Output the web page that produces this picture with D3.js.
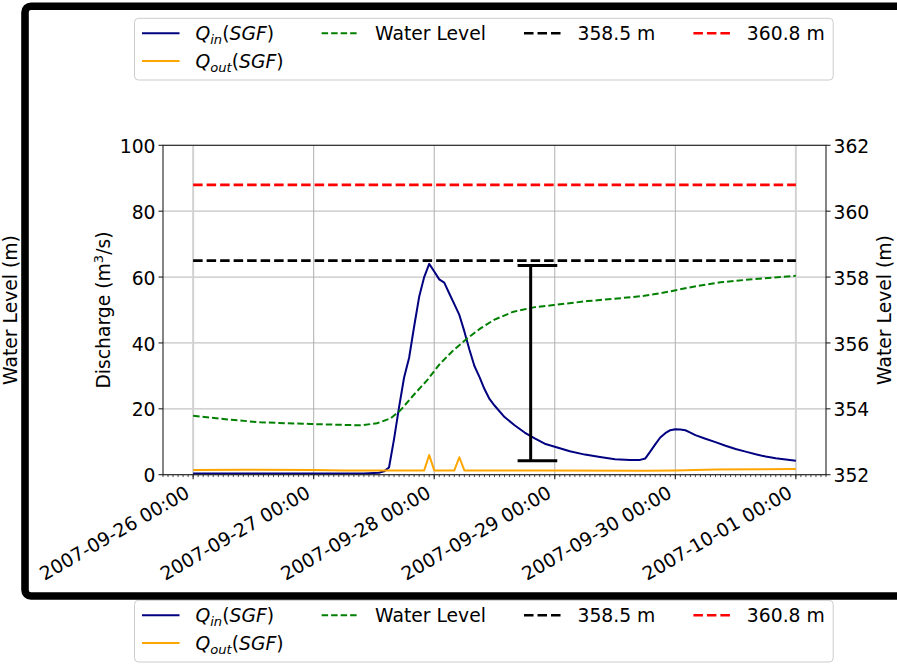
<!DOCTYPE html>
<html>
<head>
<meta charset="utf-8">
<script src="https://cdn.jsdelivr.net/npm/d3@7"></script>
<style>
  body { margin: 0; background: #ffffff; }
  svg { display: block; }
  text { font-family: "DejaVu Sans", sans-serif; fill: #000; }
</style>
</head>
<body>
<svg id="chart" width="897" height="664"></svg>
<script>
// ---------------- data ----------------
const startTime = "2007-09-26T00:00";
const xDomain = ["2007-09-25T18:00", "2007-10-01T06:00"];
const xTickDates = ["2007-09-26T00:00", "2007-09-27T00:00", "2007-09-28T00:00",
                    "2007-09-29T00:00", "2007-09-30T00:00", "2007-10-01T00:00"];

// inflow Q_in (hours after start, m3/s)
const qinHours  = [0, 12, 24, 34, 37, 38, 39, 40, 41, 42, 43, 44, 45, 46, 47, 48, 49, 50, 51, 52,
                   53, 54, 55, 56, 57, 58, 59, 60, 62, 64, 66, 68, 70, 72, 75, 78, 81, 84, 87, 89,
                   90, 91, 92, 93, 94, 95, 96, 97, 98, 99, 100, 102, 104, 106, 108, 110, 112, 114,
                   116, 118, 120];
const qinValues = [0.4, 0.4, 0.4, 0.4, 0.6, 1.0, 2.2, 10.8, 20.5, 29.5, 35.5, 45, 54, 60, 64, 61.7,
                   59.3, 58.3, 55, 51.8, 48.5, 43.5, 38, 33, 29.7, 26, 23, 21, 17.5, 15, 12.8, 11,
                   9.4, 8.5, 7.1, 6.1, 5.4, 4.7, 4.5, 4.5, 4.9, 7, 9.2, 11.3, 12.6, 13.5, 13.8,
                   13.7, 13.5, 12.8, 12.0, 10.9, 9.9, 8.8, 7.8, 7.0, 6.2, 5.5, 5.0, 4.6, 4.25];

// outflow Q_out (hours after start, m3/s)
const qoutHours  = [0, 10, 24, 30, 46, 47, 48, 52, 53, 54, 70, 90, 96, 104, 120];
const qoutValues = [1.4, 1.5, 1.4, 1.3, 1.3, 6.0, 1.3, 1.3, 5.3, 1.3, 1.3, 1.2, 1.3, 1.6, 1.7];

// water level (hours after start, m)
const levelHours  = [0, 6, 13.4, 23.3, 33.3, 36.6, 39.3, 41.3, 43.9, 46.6, 49.2, 51.9, 54.6, 57.2,
                     59.9, 63.8, 67.8, 71.8, 78.5, 85.1, 89.8, 93.1, 96.4, 100.4, 105, 111.7, 120];
const levelValues = [353.79, 353.69, 353.59, 353.54, 353.50, 353.56, 353.71, 353.96, 354.42, 354.87,
                     355.38, 355.79, 356.14, 356.44, 356.70, 356.95, 357.08, 357.15, 357.27, 357.36,
                     357.43, 357.51, 357.61, 357.73, 357.84, 357.94, 358.04];

// reference levels
const thresholdValues = [358.5, 360.8];
const thresholdLabels = ["358.5 m", "360.8 m"];
const thresholdColors = ["#000000", "#ff0000"];
const thresholdHours  = [0, 120];

// range bar (discharge units)
const rangeBarHour     = 67.2;
const rangeBarCapHours = [64.6, 72.5];
const rangeBarValues   = [4.25, 63.5];

const dischargeTicks = [0, 20, 40, 60, 80, 100];
const levelTicks     = [352, 354, 356, 358, 360, 362];
const dischargeDomain = [0, 100];
const levelDomain     = [352, 362];

const labels = {
  discharge: "Discharge (m",
  dischargeTail: "/s)",
  level: "Water Level (m)",
  waterLevel: "Water Level"
};

// ---------------- drawing ----------------
const svg = d3.select("#chart");
const FS = 18.75;
const plot = { left: 163, right: 826, top: 145.3, bottom: 474.7 };

const start = new Date(startTime);
const atHour = h => new Date(start.getTime() + h * 3600e3);

const x = d3.scaleTime().domain(xDomain.map(s => new Date(s))).range([plot.left, plot.right]);
const yQ = d3.scaleLinear().domain(dischargeDomain).range([plot.bottom, plot.top]);
const yL = d3.scaleLinear().domain(levelDomain).range([plot.bottom, plot.top]);

svg.append("rect").attr("width", 897).attr("height", 664).attr("fill", "#fff");

// grid
const grid = svg.append("g");
dischargeTicks.forEach(v => {
  grid.append("line").attr("x1", plot.left).attr("x2", plot.right)
    .attr("y1", yQ(v)).attr("y2", yQ(v))
    .attr("stroke", "#c4c4c4").attr("stroke-width", 1.3);
});
const tickDates = xTickDates.map(s => new Date(s));
tickDates.forEach((d, i) => {
  const edge = (i === 0 || i === tickDates.length - 1);
  grid.append("line").attr("x1", x(d)).attr("x2", x(d))
    .attr("y1", plot.top).attr("y2", plot.bottom)
    .attr("stroke", edge ? "#d2d2d2" : "#b0b0b0").attr("stroke-width", edge ? 2 : 1);
});

// series
const lineQ = d3.line().x(d => x(d[0])).y(d => yQ(d[1]));
const lineL = d3.line().x(d => x(d[0])).y(d => yL(d[1]));

svg.append("path")
  .datum(qinHours.map((h, i) => [atHour(h), qinValues[i]]))
  .attr("d", lineQ).attr("fill", "none").attr("stroke", "#000080")
  .attr("stroke-width", 2).attr("stroke-linejoin", "round");

svg.append("path")
  .datum(qoutHours.map((h, i) => [atHour(h), qoutValues[i]]))
  .attr("d", lineQ).attr("fill", "none").attr("stroke", "#ffa500")
  .attr("stroke-width", 2).attr("stroke-linejoin", "round");

svg.append("path")
  .datum(levelHours.map((h, i) => [atHour(h), levelValues[i]]))
  .attr("d", lineL).attr("fill", "none").attr("stroke", "#008000")
  .attr("stroke-width", 2).attr("stroke-dasharray", "6.5 3");

thresholdValues.forEach((v, i) => {
  svg.append("line")
    .attr("x1", x(atHour(thresholdHours[0]))).attr("x2", x(atHour(thresholdHours[1])))
    .attr("y1", yL(v)).attr("y2", yL(v))
    .attr("stroke", thresholdColors[i]).attr("stroke-width", 2.6)
    .attr("stroke-dasharray", "9.5 4");
});

// range bar
const rb = svg.append("g").attr("stroke", "#000").attr("stroke-width", 3);
rb.append("line").attr("x1", x(atHour(rangeBarHour))).attr("x2", x(atHour(rangeBarHour)))
  .attr("y1", yQ(rangeBarValues[0])).attr("y2", yQ(rangeBarValues[1]));
rangeBarValues.forEach(v => {
  rb.append("line").attr("x1", x(atHour(rangeBarCapHours[0]))).attr("x2", x(atHour(rangeBarCapHours[1])))
    .attr("y1", yQ(v)).attr("y2", yQ(v));
});

// spines
const sp = svg.append("g").attr("stroke", "#222").attr("stroke-width", 1.1).attr("fill", "none");
sp.append("rect").attr("x", plot.left).attr("y", plot.top)
  .attr("width", plot.right - plot.left).attr("height", plot.bottom - plot.top);

// left axis ticks
const ax = svg.append("g");
dischargeTicks.forEach(v => {
  ax.append("line").attr("x1", plot.left - 4.5).attr("x2", plot.left)
    .attr("y1", yQ(v)).attr("y2", yQ(v)).attr("stroke", "#222").attr("stroke-width", 1.1);
  ax.append("text").attr("x", 155.5).attr("y", yQ(v) + 7.6)
    .attr("text-anchor", "end").attr("font-size", FS).text(v);
});
levelTicks.forEach(v => {
  ax.append("line").attr("x1", plot.right).attr("x2", plot.right + 4.5)
    .attr("y1", yL(v)).attr("y2", yL(v)).attr("stroke", "#222").attr("stroke-width", 1.1);
  ax.append("text").attr("x", 833.5).attr("y", yL(v) + 7.6)
    .attr("text-anchor", "start").attr("font-size", FS).text(v);
});

// x axis ticks
const minor = d3.timeHour.every(1).range(x.domain()[0], d3.timeMinute.offset(x.domain()[1], 1));
minor.forEach(d => {
  ax.append("line").attr("x1", x(d)).attr("x2", x(d))
    .attr("y1", plot.bottom).attr("y2", plot.bottom + 2.4)
    .attr("stroke", "#222").attr("stroke-width", 0.8);
});
const fmt = d3.timeFormat("%Y-%m-%d %H:%M");
tickDates.forEach(d => {
  ax.append("line").attr("x1", x(d)).attr("x2", x(d))
    .attr("y1", plot.bottom).attr("y2", plot.bottom + 4.5)
    .attr("stroke", "#222").attr("stroke-width", 1.1);
  ax.append("text")
    .attr("transform", `translate(${x(d) - 2.2},${plot.bottom + 21.8}) rotate(-30)`)
    .attr("text-anchor", "end").attr("font-size", FS).text(fmt(d));
});

// axis labels
const midY = (plot.top + plot.bottom) / 2;
const dl = svg.append("text")
  .attr("transform", `translate(110,${midY}) rotate(-90)`)
  .attr("text-anchor", "middle").attr("font-size", FS);
dl.append("tspan").text(labels.discharge);
dl.append("tspan").attr("font-size", FS * 0.7).attr("dy", -7).text("3");
dl.append("tspan").attr("dy", 7).text(labels.dischargeTail);

svg.append("text").attr("transform", `translate(891,${midY}) rotate(-90)`)
  .attr("text-anchor", "middle").attr("font-size", FS).text(labels.level);
svg.append("text").attr("transform", `translate(17,${midY}) rotate(-90)`)
  .attr("text-anchor", "middle").attr("font-size", FS).text(labels.level);

// legends
const legendColumns = [
  [ { math: ["Q", "in"], color: "#000080", dash: null, w: 2 },
    { math: ["Q", "out"], color: "#ffa500", dash: null, w: 2 } ],
  [ { text: labels.waterLevel, color: "#008000", dash: "6.5 3", w: 2 } ],
  [ { text: thresholdLabels[0], color: thresholdColors[0], dash: "9.5 4", w: 2.6 } ],
  [ { text: thresholdLabels[1], color: thresholdColors[1], dash: "9.5 4", w: 2.6 } ]
];

function drawLegend(top) {
  const g = svg.append("g");
  const box = g.append("rect");
  const left = 134.5;
  const rowY = [top + 15, top + 42.7];
  const colGap = 2.03 * FS;
  let cx = left + 0.4 * FS;
  legendColumns.forEach(col => {
    let colW = 0;
    col.forEach((e, r) => {
      g.append("line").attr("x1", cx).attr("x2", cx + 2 * FS)
        .attr("y1", rowY[r]).attr("y2", rowY[r])
        .attr("stroke", e.color).attr("stroke-width", e.w)
        .attr("stroke-dasharray", e.dash);
      const t = g.append("text").attr("x", cx + 2.85 * FS).attr("y", rowY[r] + 6.8)
        .attr("font-size", FS);
      if (e.math) {
        t.append("tspan").attr("font-style", "italic").text(e.math[0]);
        t.append("tspan").attr("font-style", "italic").attr("font-size", FS * 0.7)
          .attr("dy", 4.2).text(e.math[1]);
        t.append("tspan").attr("dy", -4.2).text("(");
        t.append("tspan").attr("font-style", "italic").text("SGF");
        t.append("tspan").text(")");
      } else {
        t.text(e.text);
      }
      colW = Math.max(colW, 2.85 * FS + t.node().getComputedTextLength());
    });
    cx += colW + colGap;
  });
  const right = cx - colGap + 0.45 * FS;
  box.attr("x", left).attr("y", top).attr("width", right - left).attr("height", 61.7)
    .attr("rx", 4).attr("fill", "#fff").attr("stroke", "#cccccc").attr("stroke-width", 1);
}
drawLegend(18.3);
drawLegend(600.3);

// outer frame
svg.append("rect").attr("x", 25).attr("y", 6.3).attr("width", 920).attr("height", 589.7)
  .attr("rx", 6).attr("fill", "none").attr("stroke", "#000").attr("stroke-width", 7.6);
</script>
</body>
</html>
